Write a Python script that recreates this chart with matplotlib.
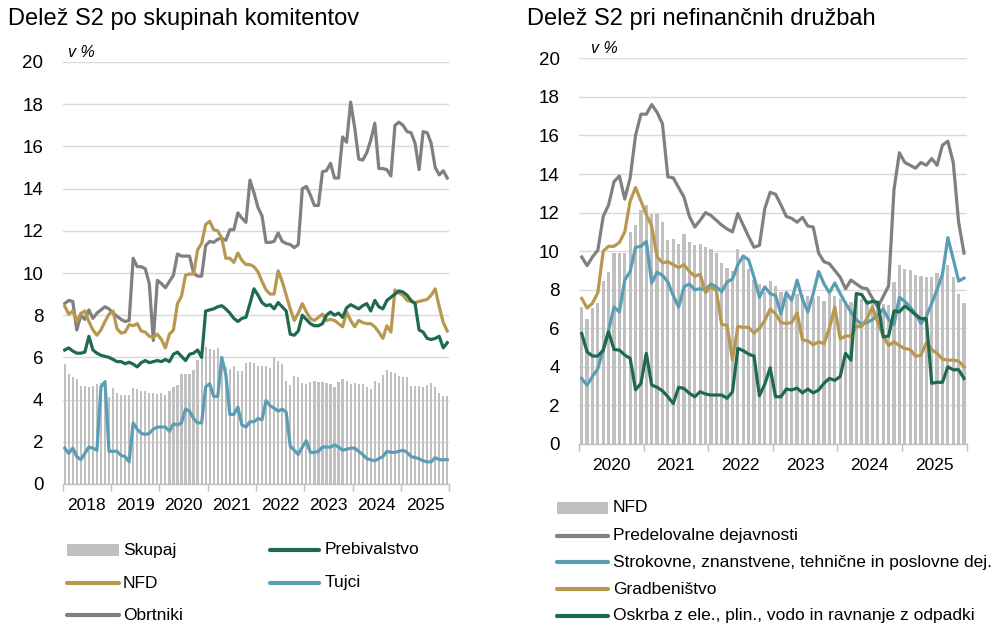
import numpy as np
import matplotlib
matplotlib.use("Agg")
import matplotlib.pyplot as plt
from matplotlib.lines import Line2D
from matplotlib.patches import Rectangle

# ---------------- data: left panel (monthly, Jan 2018 - Dec 2025) ----------------
left_years = ["2018", "2019", "2020", "2021", "2022", "2023", "2024", "2025"]

skupaj = [5.7, 5.2, 5.05, 5.0, 4.65, 4.65, 4.6, 4.65, 4.75, 4.8, 4.85, 4.1,
          4.55, 4.3, 4.2, 4.2, 4.2, 4.55, 4.5, 4.4, 4.4, 4.3, 4.3, 4.25,
          4.3, 4.2, 4.4, 4.6, 4.7, 5.2, 5.2, 5.2, 5.4, 5.9, 6.5, 6.5,
          6.4, 6.35, 6.45, 6.0, 5.55, 5.45, 5.6, 5.35, 5.35, 5.75, 5.8, 5.75,
          5.6, 5.6, 5.6, 5.5, 6.0, 5.85, 5.7, 4.9, 4.7, 5.1, 5.05, 4.8,
          4.75, 4.85, 4.9, 4.85, 4.85, 4.8, 4.75, 4.6, 4.85, 5.0, 4.9, 4.75,
          4.8, 4.75, 4.75, 4.6, 4.5, 4.9, 4.8, 5.15, 5.4, 5.3, 5.25, 5.1,
          5.05, 5.05, 4.65, 4.65, 4.65, 4.6, 4.7, 4.8, 4.6, 4.3, 4.15, 4.15]

prebivalstvo = [6.35, 6.45, 6.3, 6.2, 6.2, 6.25, 7.0, 6.35, 6.2, 6.1, 6.05, 6.0,
                5.9, 5.8, 5.8, 5.7, 5.77, 5.68, 5.55, 5.75, 5.85, 5.75, 5.8, 5.85,
                5.8, 5.9, 5.8, 6.15, 6.25, 6.05, 5.85, 6.15, 6.2, 6.35, 6.0, 8.2,
                8.25, 8.3, 8.4, 8.45, 8.3, 8.1, 7.85, 7.7, 7.85, 7.9, 8.55, 9.25,
                8.95, 8.6, 8.45, 8.5, 8.3, 8.6, 8.4, 8.2, 7.1, 7.05, 7.25, 8.0,
                7.8, 7.6, 7.5, 7.5, 7.6, 8.0, 8.15, 8.0, 8.1, 7.9, 8.35, 8.5,
                8.4, 8.3, 8.45, 8.55, 8.2, 8.7, 8.4, 8.3, 8.7, 8.85, 9.0, 9.15,
                9.1, 8.95, 8.7, 8.55, 7.3, 7.2, 6.9, 6.85, 6.9, 7.0, 6.45, 6.7]

nfd = [8.43, 8.05, 8.2, 7.7, 8.08, 8.2, 7.7, 7.3, 7.05, 7.3, 7.7, 8.05,
       8.2, 7.35, 7.15, 7.2, 7.55, 7.5, 7.6, 7.25, 7.2, 7.0, 6.95, 7.1,
       6.85, 6.45, 7.1, 7.3, 8.55, 8.9, 9.9, 9.95, 9.95, 11.1, 11.4, 12.3,
       12.45, 12.05, 12.0, 11.65, 10.7, 10.7, 10.5, 10.95, 10.6, 10.4, 10.4, 10.3,
       10.05, 9.6, 9.2, 9.0, 9.0, 10.1, 9.6, 8.95, 8.3, 7.75, 8.1, 8.55,
       8.15, 7.85, 7.75, 7.9, 8.05, 7.75, 7.8, 7.75, 7.6, 7.45, 8.15, 7.75,
       7.45, 7.75, 7.65, 7.6, 7.6, 7.45, 7.2, 6.9, 7.5, 7.2, 9.2, 9.05,
       8.95, 8.7, 8.65, 8.6, 8.65, 8.7, 8.75, 8.95, 9.25, 8.4, 7.65, 7.25]

tujci = [1.7, 1.45, 1.7, 1.3, 1.15, 1.45, 1.75, 1.7, 1.6, 4.6, 4.85, 1.55,
         1.55, 1.55, 1.35, 1.3, 1.05, 2.9, 2.6, 2.4, 2.35, 2.4, 2.6, 2.7,
         2.7, 2.7, 2.5, 2.85, 2.8, 2.9, 3.55, 3.45, 3.1, 2.9, 2.9, 4.6,
         4.75, 4.15, 4.15, 6.0, 5.2, 3.3, 3.3, 3.65, 2.8, 2.7, 2.95, 2.95,
         3.1, 3.05, 3.95, 3.7, 3.6, 3.45, 3.55, 3.4, 1.8, 1.6, 1.4, 1.75,
         2.05, 1.5, 1.5, 1.55, 1.75, 1.75, 1.75, 1.85, 1.75, 1.6, 1.65, 1.7,
         1.7, 1.55, 1.4, 1.2, 1.15, 1.1, 1.2, 1.3, 1.55, 1.5, 1.5, 1.55,
         1.6, 1.5, 1.3, 1.25, 1.2, 1.1, 1.05, 1.05, 1.25, 1.15, 1.15, 1.15]

obrtniki = [8.55, 8.7, 8.65, 7.3, 8.0, 7.8, 8.25, 7.85, 8.1, 8.25, 8.4, 8.3,
            8.1, 7.95, 7.8, 7.7, 7.75, 10.7, 10.3, 10.3, 10.2, 9.5, 6.8, 9.65,
            9.5, 9.3, 9.6, 9.9, 10.9, 10.8, 10.8, 10.8, 10.0, 9.85, 9.85, 11.3,
            11.5, 11.45, 11.6, 11.65, 11.55, 12.05, 12.05, 12.85, 12.6, 12.4, 14.4, 13.8,
            13.1, 12.7, 11.45, 11.45, 11.5, 11.9, 11.5, 11.4, 11.35, 11.2, 11.35, 14.0,
            14.1, 13.7, 13.2, 13.2, 14.8, 14.85, 15.2, 14.5, 14.5, 16.45, 16.2, 18.1,
            16.9, 15.4, 15.35, 15.7, 16.3, 17.1, 14.95, 14.95, 14.9, 14.6, 17.0, 17.15,
            17.0, 16.7, 16.65, 16.15, 14.9, 16.7, 16.65, 16.15, 15.0, 14.65, 14.85, 14.5]

# ---------------- data: right panel (monthly, Jan 2020 - Dec 2025) ----------------
right_years = ["2020", "2021", "2022", "2023", "2024", "2025"]

nfd_bars = [7.1, 6.5, 7.05, 7.3, 8.45, 8.9, 9.9, 9.9, 9.9, 11.0, 11.35, 12.15,
            12.4, 11.95, 11.95, 11.5, 10.6, 10.65, 10.35, 10.9, 10.45, 10.3, 10.35, 10.2,
            10.1, 9.9, 9.4, 9.15, 8.95, 10.1, 9.8, 9.1, 8.5, 8.3, 7.9, 8.45,
            8.2, 7.9, 7.85, 7.7, 7.8, 7.75, 7.65, 7.55, 7.65, 7.4, 7.8, 7.7,
            7.5, 7.4, 7.35, 7.6, 7.5, 7.45, 7.3, 7.25, 7.25, 7.2, 8.4, 9.3,
            9.1, 9.0, 8.75, 8.7, 8.65, 8.65, 8.85, 8.95, 9.3, 8.65, 7.8, 7.3]

predelovalne = [9.7, 9.25, 9.7, 10.05, 11.8, 12.4, 13.6, 13.9, 12.7, 13.8, 16.0, 17.1,
                17.1, 17.6, 17.2, 16.6, 13.85, 13.8, 13.3, 12.8, 11.8, 11.25, 11.6, 12.0,
                11.85, 11.6, 11.35, 11.15, 11.0, 11.95, 11.35, 10.75, 10.2, 10.3, 12.2, 13.05,
                12.95, 12.4, 11.8, 11.7, 11.5, 11.75, 11.3, 11.25, 9.9, 9.45, 9.35, 9.0,
                8.65, 8.05, 8.5, 8.3, 8.1, 8.05, 7.55, 7.1, 7.65, 8.2, 13.2, 15.1,
                14.6, 14.45, 14.3, 14.6, 14.45, 14.8, 14.45, 15.5, 15.7, 14.6, 11.5, 9.9]

strokovne = [3.4, 3.05, 3.5, 3.9, 4.9, 5.9, 7.1, 6.85, 8.5, 8.95, 10.2, 10.25,
             10.5, 8.35, 8.9, 8.75, 8.4, 7.7, 7.1, 8.15, 8.3, 8.0, 8.05, 8.0,
             8.3, 8.15, 7.9, 8.4, 8.55, 9.3, 9.75, 9.55, 8.65, 7.6, 8.15, 7.8,
             7.7, 6.75, 7.85, 7.45, 8.5, 7.5, 6.85, 7.8, 8.95, 8.3, 7.85, 8.35,
             7.8, 7.3, 6.85, 6.45, 6.2, 6.3, 6.45, 6.7, 7.0, 6.45, 6.2, 7.6,
             7.4, 7.1, 6.75, 6.25, 6.6, 7.3, 8.0, 8.8, 10.7, 9.6, 8.45, 8.6]

gradbenistvo = [7.55, 7.05, 7.3, 7.85, 10.0, 10.25, 10.25, 10.45, 11.0, 12.6, 13.3, 12.6,
                11.9, 11.3, 9.7, 9.4, 9.45, 9.3, 9.15, 9.3, 8.95, 8.7, 8.8, 7.85,
                8.15, 7.95, 6.2, 6.15, 4.35, 6.1, 6.05, 6.05, 5.75, 6.0, 6.4, 7.0,
                6.75, 6.3, 6.25, 6.3, 6.8, 5.4, 5.35, 5.15, 5.3, 5.2, 6.0, 7.1,
                5.45, 5.6, 5.6, 6.1, 6.1, 6.5, 7.1, 6.3, 5.6, 5.1, 5.3, 5.1,
                4.95, 4.9, 4.55, 4.6, 5.25, 4.9, 4.7, 4.4, 4.35, 4.35, 4.3, 4.0]

oskrba = [5.73, 4.78, 4.56, 4.56, 4.87, 5.82, 4.9, 4.87, 4.61, 4.44, 2.81, 3.14,
          4.7, 3.06, 2.94, 2.76, 2.45, 2.1, 2.94, 2.88, 2.63, 2.45, 2.71, 2.59,
          2.54, 2.54, 2.54, 2.37, 2.71, 4.96, 4.84, 4.66, 4.56, 2.5, 3.1, 3.95,
          2.45, 2.45, 2.85, 2.8, 2.9, 2.65, 2.85, 2.65, 2.8, 3.15, 3.4, 3.3,
          3.5, 4.7, 4.35, 7.8, 7.75, 7.3, 7.4, 7.35, 5.55, 5.6, 6.9, 6.85,
          7.15, 6.95, 6.7, 6.5, 6.5, 3.15, 3.2, 3.2, 4.0, 3.85, 3.85, 3.4]

# ---------------- style ----------------
FONT = ["Liberation Sans", "DejaVu Sans"]
plt.rcParams["font.family"] = FONT
C_BAR = "#c0c0c0"
C_GREY = "#808080"
C_GOLD = "#b8984f"
C_GREEN = "#1e6a4f"
C_BLUE = "#5b9db5"
C_GRID = "#d9d9d9"
LW = 2.3
LEG_FS = 12.5

fig = plt.figure(figsize=(9.95, 6.25), dpi=100)
W, H = 995.0, 625.0


def ax_rect(x0, x1, ytop, ybot):
    return [x0 / W, 1 - ybot / H, (x1 - x0) / W, (ybot - ytop) / H]


def style_axis(ax, n, years):
    ax.set_xlim(0, n)
    ax.set_ylim(0, 20)
    ax.set_yticks(np.arange(0, 21, 2))
    ax.yaxis.grid(True, color=C_GRID, lw=1.0)
    ax.set_axisbelow(True)
    for s in ["top", "right", "left"]:
        ax.spines[s].set_visible(False)
    ax.spines["bottom"].set_color("#bfbfbf")
    ax.spines["bottom"].set_linewidth(1.0)
    ax.tick_params(axis="y", length=0, labelsize=13.5, pad=14)
    ax.set_xticks(np.arange(0, n + 1, 12))
    ax.set_xticklabels([])
    ax.set_xticks(np.arange(6, n, 12), minor=True)
    ax.set_xticklabels(years, minor=True)
    ax.tick_params(axis="x", which="major", length=5, color="#bfbfbf", width=1.0)
    ax.tick_params(axis="x", which="minor", length=0, labelsize=12.5, pad=10)


# ---------------- left panel ----------------
axL = fig.add_axes(ax_rect(62.7, 449.3, 62.0, 484.0))
nL = len(skupaj)
xL = np.arange(nL) + 0.5
axL.bar(xL, skupaj, width=0.55, color=C_BAR, zorder=1)
axL.plot(xL, obrtniki, color=C_GREY, lw=LW, zorder=3)
axL.plot(xL, nfd, color=C_GOLD, lw=LW, zorder=3)
axL.plot(xL, prebivalstvo, color=C_GREEN, lw=LW, zorder=3)
axL.plot(xL, tujci, color=C_BLUE, lw=LW, zorder=3)
style_axis(axL, nL, left_years)
axL.text(0.015, 1.005, "v %", transform=axL.transAxes, fontsize=11.5,
         style="italic", ha="left", va="bottom")

# ---------------- right panel ----------------
axR = fig.add_axes(ax_rect(579.0, 966.7, 58.3, 444.0))
nR = len(nfd_bars)
xR = np.arange(nR) + 0.5
axR.bar(xR, nfd_bars, width=0.6, color=C_BAR, zorder=1)
axR.plot(xR, predelovalne, color=C_GREY, lw=LW, zorder=3)
axR.plot(xR, strokovne, color=C_BLUE, lw=LW, zorder=3)
axR.plot(xR, gradbenistvo, color=C_GOLD, lw=LW, zorder=3)
axR.plot(xR, oskrba, color=C_GREEN, lw=LW, zorder=3)
style_axis(axR, nR, right_years)
axR.text(0.03, 1.005, "v %", transform=axR.transAxes, fontsize=11.5,
         style="italic", ha="left", va="bottom")

# ---------------- titles ----------------
fig.text(8 / W, 1 - 19 / H, "Delež S2 po skupinah komitentov", fontsize=17,
         ha="left", va="center")
fig.text(527 / W, 1 - 19 / H, "Delež S2 pri nefinančnih družbah", fontsize=17,
         ha="left", va="center")

# ---------------- legends (drawn in figure pixel coords) ----------------
def leg_patch(x0, x1, yc, label, tx):
    fig.add_artist(Rectangle((x0 / W, 1 - (yc + 6) / H), (x1 - x0) / W, 12 / H,
                             transform=fig.transFigure, color=C_BAR, lw=0))
    fig.text(tx / W, 1 - yc / H, label, fontsize=LEG_FS, ha="left", va="center")


def leg_line(x0, x1, yc, color, label, tx):
    fig.add_artist(Line2D([x0 / W, x1 / W], [1 - yc / H, 1 - yc / H],
                          transform=fig.transFigure, color=color, lw=3.0,
                          solid_capstyle="round"))
    fig.text(tx / W, 1 - yc / H, label, fontsize=LEG_FS, ha="left", va="center")


leg_patch(67, 119, 550, "Skupaj", 123)
leg_line(270, 319, 550, C_GREEN, "Prebivalstvo", 325)
leg_line(67, 119, 583, C_GOLD, "NFD", 123)
leg_line(270, 319, 583, C_BLUE, "Tujci", 325)
leg_line(67, 119, 615, C_GREY, "Obrtniki", 123)

leg_patch(557, 608, 508, "NFD", 613)
leg_line(557, 608, 535.5, C_GREY, "Predelovalne dejavnosti", 613)
leg_line(557, 608, 562, C_BLUE, "Strokovne, znanstvene, tehnične in poslovne dej.", 613)
leg_line(557, 608, 589, C_GOLD, "Gradbeništvo", 613)
leg_line(557, 608, 615.5, C_GREEN, "Oskrba z ele., plin., vodo in ravnanje z odpadki", 613)

fig.savefig("out.png", dpi=100)
